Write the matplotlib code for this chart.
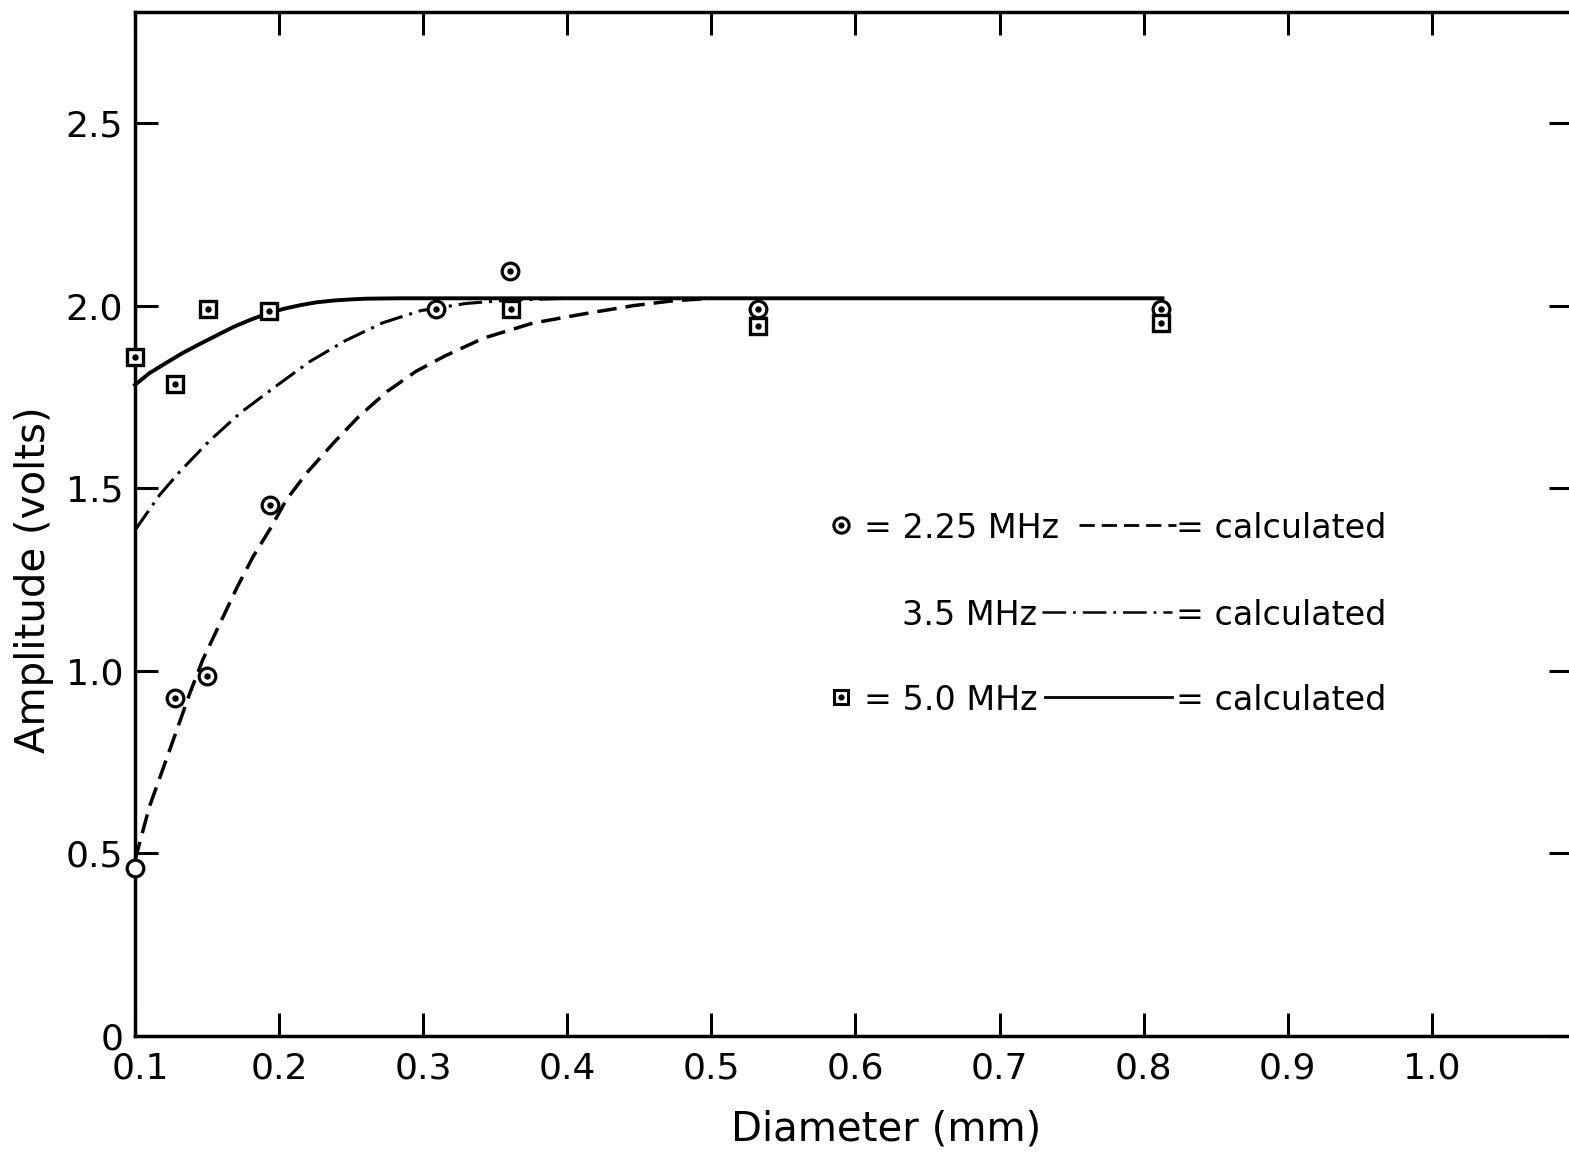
import matplotlib
matplotlib.use("Agg")
import matplotlib.pyplot as plt
from matplotlib.lines import Line2D
from matplotlib.transforms import ScaledTranslation

plt.rcParams['font.family'] = ['DejaVu Sans']
plt.rcParams['lines.scale_dashes'] = False

# ---- data ----
x_225 = [0.100, 0.128, 0.150, 0.194, 0.309, 0.360, 0.532, 0.812]
y_225 = [0.46, 0.925, 0.985, 1.455, 1.99, 2.095, 1.99, 1.99]

x_50 = [0.100, 0.128, 0.151, 0.193, 0.361, 0.532, 0.812]
y_50 = [1.86, 1.785, 1.99, 1.985, 1.99, 1.945, 1.953]

# calculated curves
calc225_x = [0.100, 0.101, 0.110, 0.120, 0.129, 0.138, 0.147, 0.159, 0.171, 0.182,
             0.194, 0.205, 0.219, 0.238, 0.255, 0.275, 0.295, 0.315, 0.342, 0.376,
             0.411, 0.446, 0.473, 0.500]
calc225_y = [0.48, 0.496, 0.628, 0.738, 0.838, 0.938, 1.030, 1.130, 1.230, 1.313,
             1.390, 1.468, 1.541, 1.625, 1.695, 1.765, 1.820, 1.862, 1.911, 1.952,
             1.977, 2.000, 2.013, 2.020]

calc35_x = [0.100, 0.117, 0.131, 0.151, 0.173, 0.196, 0.221, 0.246, 0.272, 0.298,
            0.330, 0.360, 0.400]
calc35_y = [1.385, 1.481, 1.545, 1.627, 1.706, 1.774, 1.846, 1.904, 1.953, 1.986,
            2.006, 2.015, 2.020]

calc50_x = [0.100, 0.110, 0.122, 0.133, 0.145, 0.157, 0.168, 0.180, 0.191, 0.203,
            0.2145, 0.226, 0.238, 0.250, 0.261, 0.284, 0.813]
calc50_y = [1.783, 1.815, 1.844, 1.870, 1.895, 1.919, 1.941, 1.961, 1.977, 1.991,
            2.001, 2.009, 2.014, 2.017, 2.019, 2.020, 2.020]

xticks = [0.1, 0.2, 0.3, 0.4, 0.5, 0.6, 0.7, 0.8, 0.9, 1.0]
xticklabels = ["0.1", "0.2", "0.3", "0.4", "0.5", "0.6", "0.7", "0.8", "0.9", "1.0"]
yticks = [0, 0.5, 1.0, 1.5, 2.0, 2.5]
yticklabels = ["0", "0.5", "1.0", "1.5", "2.0", "2.5"]

W, H = 1569, 1156
fig = plt.figure(figsize=(W / 100, H / 100), dpi=100)
L, R, T, B = 135, 1572, 12, 1036
ax = fig.add_axes([L / W, 1 - B / H, (R - L) / W, (B - T) / H])
ax.set_xlim(0.1, 0.1 + (R - L) / 1441)
ax.set_ylim(0, (B - T) / 365.2)

ax.plot(calc225_x, calc225_y, color='black', lw=2.5, dashes=(14, 6.5), clip_on=False)
ax.plot(calc35_x, calc35_y, color='black', lw=2.2, dashes=(17, 5, 2.2, 5), clip_on=False)
ax.plot(calc50_x, calc50_y, color='black', lw=2.8, clip_on=False)

ax.plot(x_225, y_225, 'o', ms=12, mfc='white', mec='black', mew=2.3, clip_on=False, zorder=5)
ax.plot(x_225[1:], y_225[1:], 'o', ms=3.6, color='black', clip_on=False, zorder=6)
ax.plot(x_50, y_50, 's', ms=11.5, mfc='white', mec='black', mew=2.4, clip_on=False, zorder=5)
ax.plot(x_50, y_50, 'o', ms=3.6, color='black', clip_on=False, zorder=6)

ax.set_xticks(xticks)
ax.set_xticklabels(xticklabels)
ax.set_yticks(yticks)
ax.set_yticklabels(yticklabels)
ax.tick_params(direction='in', length=16.5, width=2.2, top=True, right=True,
               labelsize=26)
ax.tick_params(axis='x', pad=11)
ax.tick_params(axis='y', pad=8.5)
for s in ax.spines.values():
    s.set_linewidth(2.5)
first = ax.get_xticklabels()[0]
first.set_transform(first.get_transform() + ScaledTranslation(0.05, 0, fig.dpi_scale_trans))


def fx(px):
    return px / W


def fy(py):
    return 1 - py / H


fig.text(fx(34), fy(580), "Amplitude (volts)", rotation=90, ha='center', va='center', fontsize=29)
fig.text(fx(886), fy(1130), "Diameter (mm)", ha='center', va='center', fontsize=29)

# legend, drawn by hand
fs = 24
rows = [525, 612, 697]
base = [r + 13 for r in rows]
fig.add_artist(Line2D([fx(841)], [fy(rows[0])], marker='o', ms=11, mfc='white', mec='black', mew=2.2))
fig.add_artist(Line2D([fx(841)], [fy(rows[0])], marker='o', ms=3.4, color='black'))
fig.add_artist(Line2D([fx(841)], [fy(rows[2])], marker='s', ms=10.5, mfc='white', mec='black', mew=2.2))
fig.add_artist(Line2D([fx(841)], [fy(rows[2])], marker='o', ms=3.4, color='black'))

fig.text(fx(864), fy(base[0]), "= 2.25 MHz", ha='left', va='baseline', fontsize=fs)
fig.text(fx(1037), fy(base[1]), "3.5 MHz", ha='right', va='baseline', fontsize=fs)
fig.text(fx(864), fy(base[2]), "= 5.0 MHz", ha='left', va='baseline', fontsize=fs)
for b in base:
    fig.text(fx(1176), fy(b), "= calculated", ha='left', va='baseline', fontsize=fs)

fig.add_artist(Line2D([fx(1079), fx(1176)], [fy(rows[0]), fy(rows[0])], color='black', lw=2.0, dashes=(11, 5)))
fig.add_artist(Line2D([fx(1042), fx(1172)], [fy(rows[1]), fy(rows[1])], color='black', lw=1.8, dashes=(17, 5, 2, 5)))
fig.add_artist(Line2D([fx(1045), fx(1172)], [fy(rows[2]), fy(rows[2])], color='black', lw=2.0))

fig.savefig("out.png", dpi=100)
